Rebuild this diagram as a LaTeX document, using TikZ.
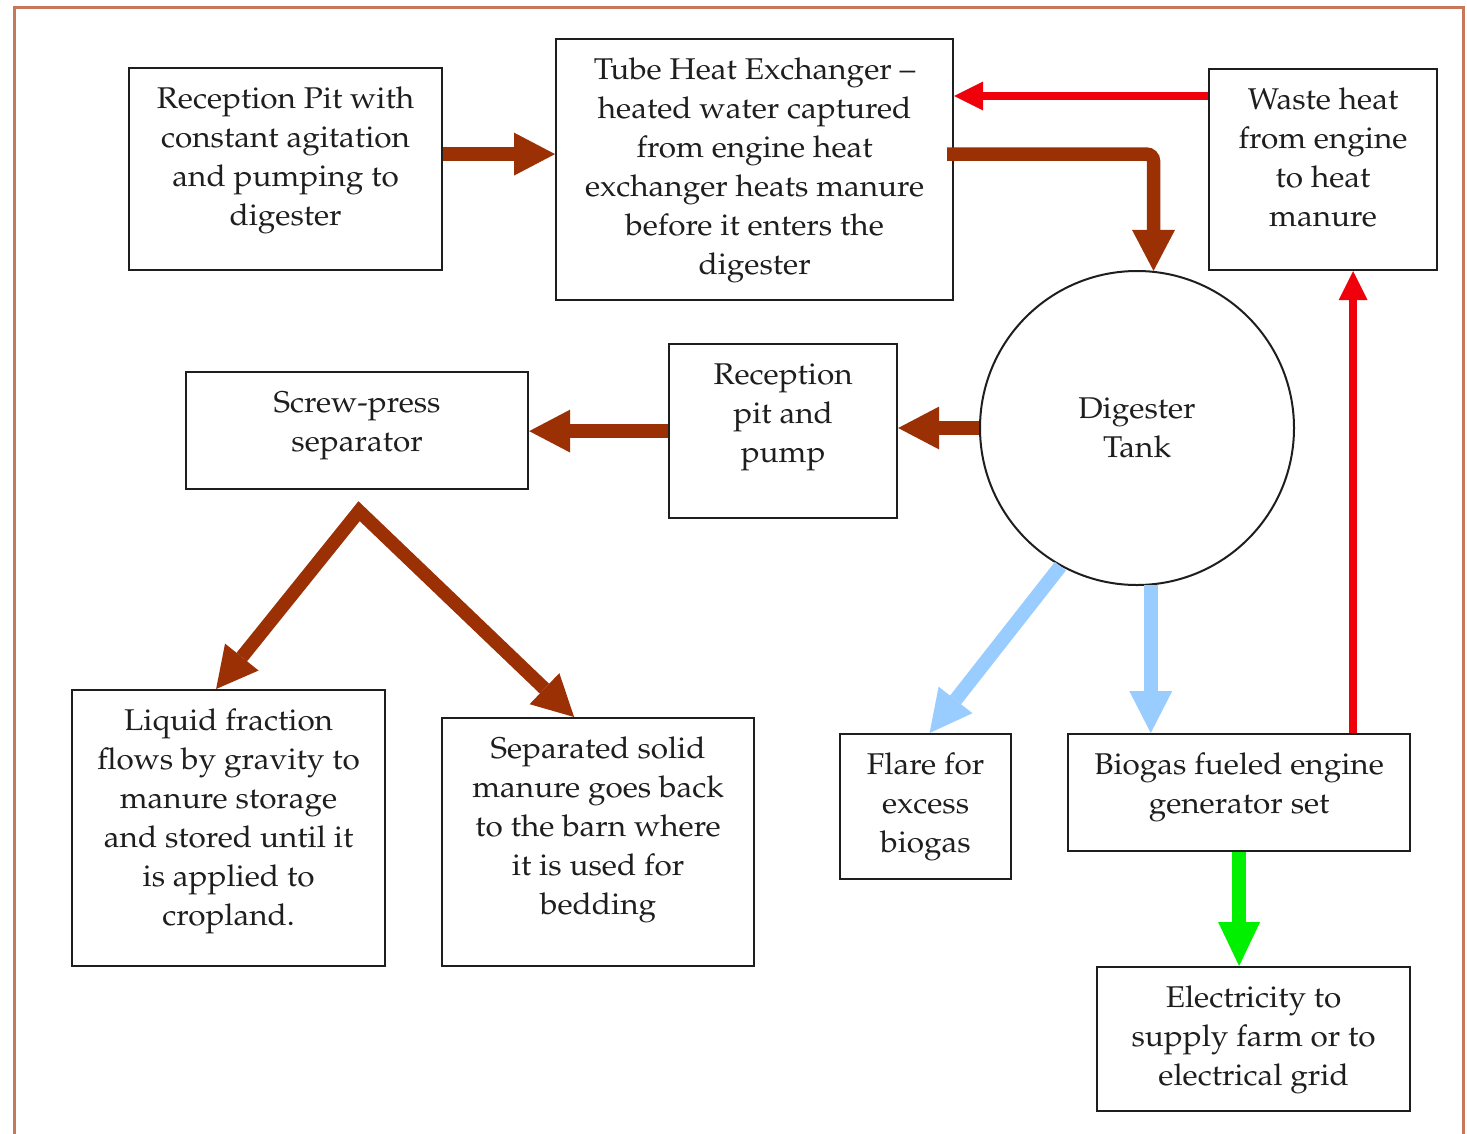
\documentclass[tikz,border=0pt]{standalone}
\usepackage[T1]{fontenc}
\usepackage{mathpazo}
\usepackage{graphicx}
\usetikzlibrary{arrows.meta,calc}
\definecolor{brn}{RGB}{155,48,5}
\definecolor{hred}{RGB}{240,0,10}
\definecolor{lblue}{RGB}{153,204,255}
\definecolor{lgreen}{RGB}{0,240,0}
\definecolor{framec}{RGB}{200,120,90}
\definecolor{ink}{RGB}{30,30,30}
\newcommand{\bt}[3]{\scalebox{1.05}[1]{\parbox[c][#2pt][t]{\dimexpr #1pt*100/105\relax}{\centering\vspace*{13.5pt}\strut#3}}}
\tikzset{
  box/.style={draw=ink, line width=2.2pt, inner sep=0pt, anchor=north west},
  brarrow/.style={draw=brn, line width=13.5pt, -{Triangle[width=43pt,length=41pt,line width=0pt]}},
  redarrow/.style={draw=hred, line width=8.5pt, -{Triangle[width=29pt,length=29pt,line width=0pt]}},
  bluearrow/.style={draw=lblue, line width=14pt, -{Triangle[width=43pt,length=42pt,line width=0pt]}},
  greenarrow/.style={draw=lgreen, line width=14pt, -{Triangle[width=42pt,length=44pt,line width=0pt]}}
}
\begin{document}
\begin{tikzpicture}[x=1pt,y=-1pt, every node/.style={font=\fontsize{30}{39}\selectfont, text=ink}]
\useasboundingbox (0,0) rectangle (1467,1133);
\fill[white] (0,0) rectangle (1467,1133);
\draw[framec, line width=3pt] (14,1145) -- (14,7) -- (1463,7) -- (1463,1145);

\node[box] (rp) at (128,67) {\bt{313}{202}{Reception Pit with\\constant agitation\\and pumping to\\digester}};
\node[box] (thx) at (555,38) {\bt{397}{261}{Tube Heat Exchanger --\\heated water captured\\from engine heat\\exchanger heats manure\\before it enters the\\digester}};
\node[box] (waste) at (1208,68) {\bt{228}{201}{Waste heat\\from engine\\to heat\\manure}};
\node[box] (rpp) at (668,343) {\bt{228}{174}{Reception\\pit and\\pump}};
\node[box] (screw) at (185,371) {\bt{342}{117}{Screw-press\\separator}};
\node[box] (liq) at (71,689) {\bt{313}{276}{Liquid fraction\\flows by gravity to\\manure storage\\and stored until it\\is applied to\\cropland.}};
\node[box] (sep) at (441,717) {\bt{312}{248}{Separated solid\\manure goes back\\to the barn where\\it is used for\\bedding}};
\node[box] (flare) at (839,733) {\bt{171}{145}{Flare for\\excess\\biogas}};
\node[box] (bio) at (1067,733) {\bt{342}{117}{Biogas fueled engine\\generator set}};
\node[box] (elec) at (1096,966) {\bt{313}{144}{Electricity to\\supply farm or to\\electrical grid}};
\node[circle, draw=ink, line width=2pt, minimum size=314pt, inner sep=0pt] (dig) at (1137,428) {\scalebox{1.05}[1]{\parbox{160pt}{\centering Digester\\Tank}}};

% brown flows
\draw[brarrow] ($(rp.east)+(0,-15)$) -- ($(thx.west |- rp.east)+(0,-15)$);
\draw[brarrow, rounded corners=7pt] ($(thx.east)+(-7,-15.5)$) -| (dig.84.5);
\draw[brarrow] (dig.west) -- (rpp.east |- dig.west);
\draw[brarrow] (rpp.west) -- (screw.east |- rpp.west);
\draw[brarrow, {Triangle[width=43pt,length=41pt,line width=0pt]}-{Triangle[width=43pt,length=41pt,line width=0pt]}, line join=miter]
  ($(liq.north)+(-12.5,0)$) -- ($(screw.south)+(2,21)$) -- ($(sep.north)+(-24,0)$);

% biogas
\draw[bluearrow] (dig.241) -- ($(flare.north)+(4,0)$);
\draw[bluearrow] (dig.275.8) -- (dig.275.8 |- bio.north);

% electricity
\draw[greenarrow] (bio.south) -- (bio.south |- elec.north);

% heat
\draw[redarrow] ($(bio.north)+(114,0)$) -- ($(bio.north |- waste.south)+(114,0)$);
\draw[redarrow] ($(waste.north west)+(0,28)$) -- ($(thx.east |- waste.north west)+(0,28)$);
\end{tikzpicture}
\end{document}
